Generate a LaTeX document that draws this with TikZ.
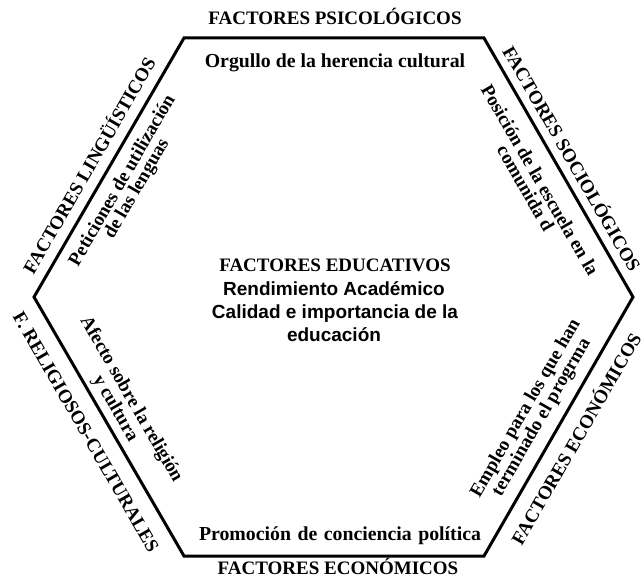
\documentclass[tikz,border=0pt]{standalone}
\usepackage{fontspec}
\setmainfont{Liberation Serif}
\setsansfont{Liberation Sans}
\usetikzlibrary{positioning}

\begin{document}
\begin{tikzpicture}[x=1pt, y=-1pt, line width=3pt,
	side label/.style={font=\bfseries\fontsize{19}{19}\selectfont, inner sep=0pt},
	inner label/.style={font=\bfseries\fontsize{19}{16.5}\selectfont, align=center, inner sep=0pt},
	flat label/.style={font=\bfseries\fontsize{19.8}{19.8}\selectfont, anchor=base, inner sep=0pt},
	edu label/.style={font=\sffamily\bfseries\fontsize{19}{19}\selectfont, anchor=base, inner sep=0pt},
]
\useasboundingbox (0,0) rectangle (643,586);
% corners of the hexagon
\coordinate (TL) at (184,38);
\coordinate (TR) at (484,38);
\coordinate (R)  at (633,297);
\coordinate (BR) at (484,556);
\coordinate (BL) at (184,556);
\coordinate (L)  at (34,297);
\draw [line join=miter] (TL) -- (TR) -- (R) -- (BR) -- (BL) -- (L) -- cycle;
% outer labels
\node [side label, anchor=base] (psico) at (335,25) {FACTORES PSICOLÓGICOS};
\node [side label, rotate=-60] (socio) at (573,158) {FACTORES SOCIOLÓGICOS};
\node [side label, rotate=60]  (econR) at (575,438) {FACTORES ECONÓMICOS};
\node [side label, anchor=base] (econB) at (338,574) {FACTORES ECONÓMICOS};
\node [side label, rotate=-60] (relig) at (86,432) {F. RELIGIOSOS-CULTURALES};
\node [side label, rotate=60]  (ling) at (88,165) {FACTORES LINGÜÍSTICOS};
% inner labels
\node [flat label] (orgullo) at (335,67) {Orgullo de la herencia cultural};
\node [inner label, rotate=-60] (posicion) at (533,184) {Posición de la escuela en la\\comunida d};
\node [inner label, rotate=60]  (empleo) at (534,413) {Empleo para los que han\\terminado el progrma};
\node [flat label] (promo) at (340,540) {\spaceskip=6.5pt\relax Promoción de conciencia política};
\node [inner label, rotate=-60] (afecto) at (123,404) {Afecto sobre la religión\\y cultura};
\node [inner label, rotate=60]  (peticion) at (130,185) {Peticiones de utilización\\de las lenguas};
% centre
\node [side label, anchor=base] (educ) at (335,271) {FACTORES EDUCATIVOS};
\node [edu label] (rend)      at (334,295) {Rendimiento Académico};
\node [edu label] (calidad)   at (335,318) {Calidad e importancia de la};
\node [edu label] (educacion) at (334,341) {educación};
\end{tikzpicture}
\end{document}
